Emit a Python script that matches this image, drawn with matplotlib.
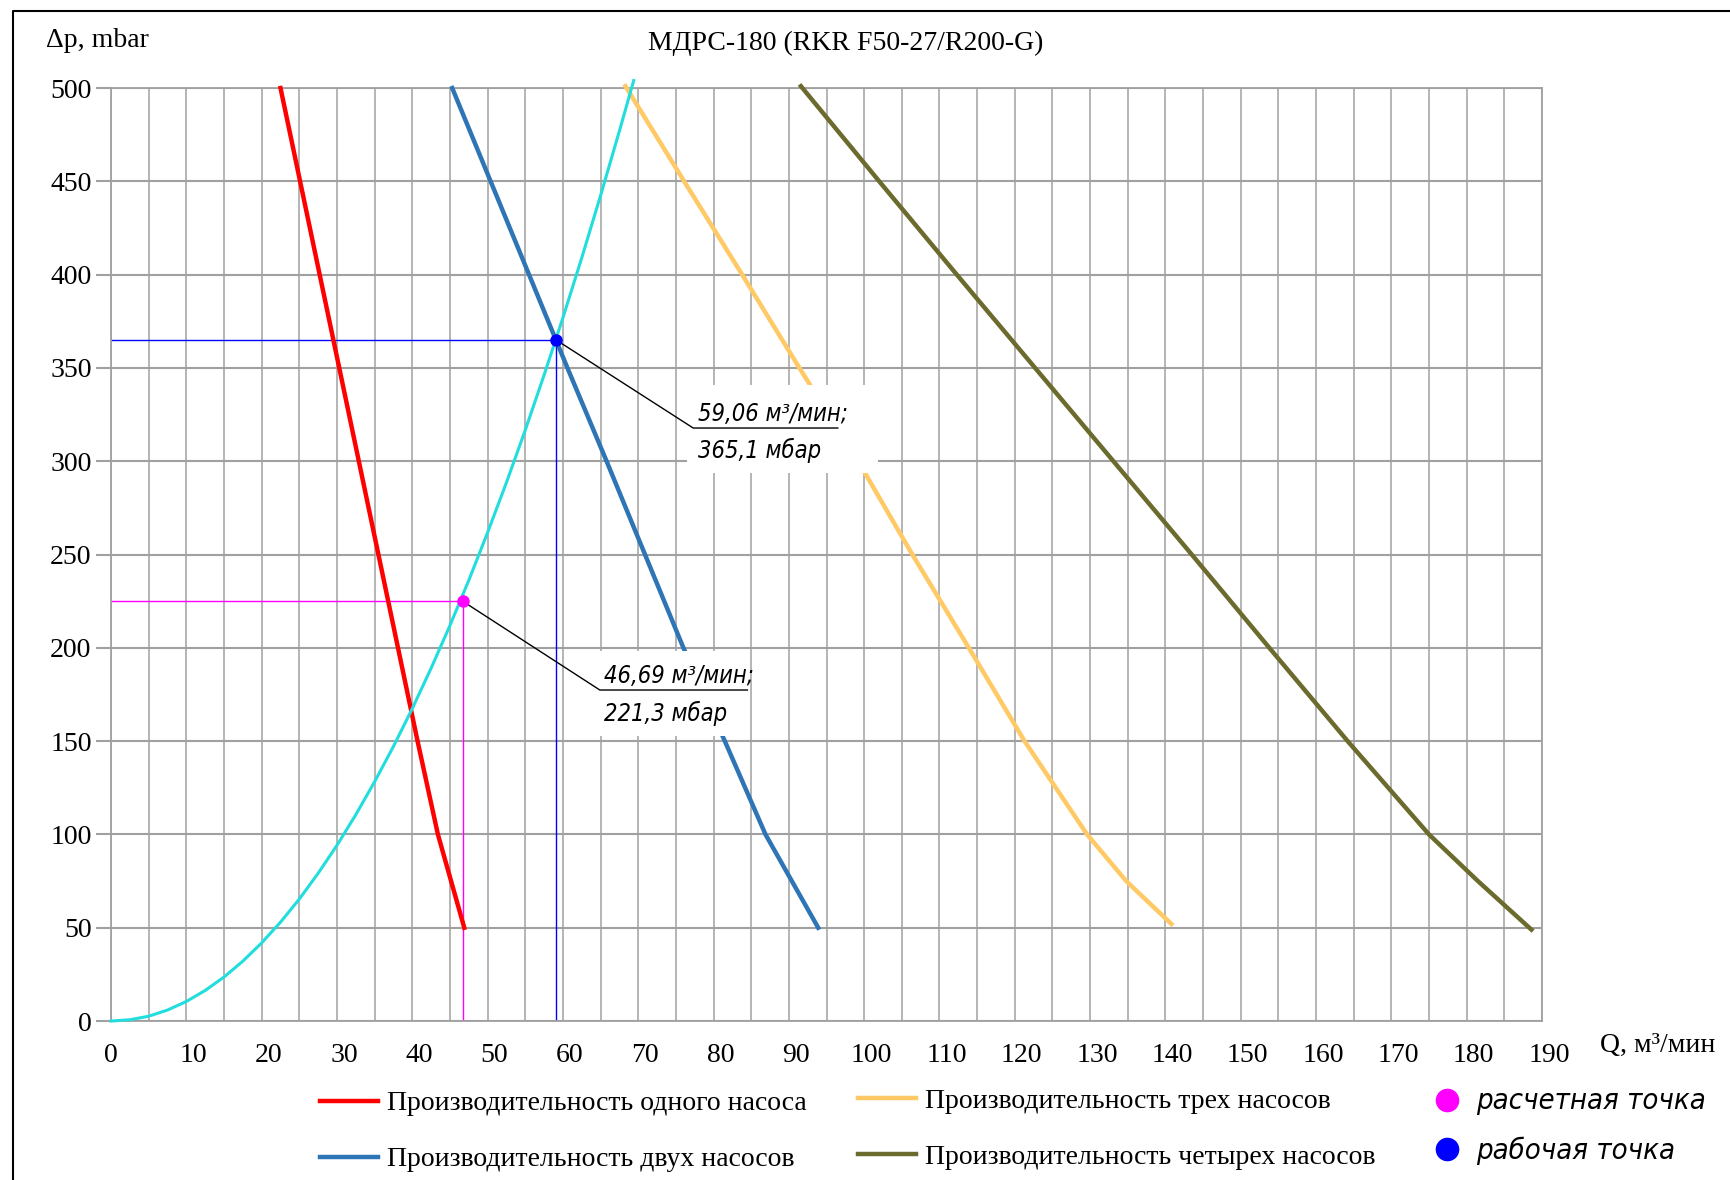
import matplotlib
matplotlib.use("Agg")
import matplotlib.pyplot as plt
from matplotlib.lines import Line2D
from matplotlib.patches import Rectangle
import matplotlib.transforms as mtransforms

plt.rcParams['font.family'] = ['Liberation Serif', 'DejaVu Serif']

# pump curves: Q (m3/min) at given dp (mbar)
dp_levels = [500, 450, 400, 350, 300, 250, 200, 150, 100, 50]
one_q = [22.5, 25.1, 27.7, 30.3, 32.9, 35.5, 38.1, 40.7, 43.4, 46.9]
two_q = [45.3, 50.4, 55.5, 60.6, 65.8, 70.9, 76.0, 81.5, 86.9, 93.9]
three_dp = [501, 450, 400, 350, 300, 250, 200, 150, 100, 75, 52]
three_q = [68.3, 76.1, 83.8, 91.4, 99.2, 106.4, 113.9, 121.3, 129.6, 134.8, 140.8]
four_dp = [501, 450, 400, 350, 300, 250, 200, 150, 100, 75, 49]
four_q = [91.6, 102.0, 112.3, 122.7, 133.1, 143.5, 153.8, 164.2, 175.0, 181.5, 188.6]

# network characteristic
net_q = [0, 2.5, 5, 7.5, 10, 12.5, 15, 17.5, 20, 22.5, 25, 27.5, 30, 32.5, 35, 37.5,
         40, 42.5, 45, 47.5, 50, 52.5, 55, 57.5, 60, 62.5, 65, 67.5, 69.4]
net_dp = [0, 0.7, 2.6, 5.9, 10.5, 16.4, 23.6, 32.1, 41.9, 53.0, 65.4, 79.2, 94.2, 110.6,
          128.3, 147.2, 167.5, 189.1, 212.0, 236.2, 261.8, 288.6, 316.7, 346.2, 376.9,
          409.0, 442.4, 477.0, 504.0]

# points
design_pt = (46.69, 225.0)
design_txt = ["46,69 м³/мин;", "221,3 мбар"]
work_pt = (59.06, 365.1)
work_txt = ["59,06 м³/мин;", "365,1 мбар"]

labels = ["Производительность одного насоса", "Производительность двух насосов",
          "Производительность трех насосов", "Производительность четырех насосов",
          "расчетная точка", "рабочая точка"]

grid_c = '#A0A0A0'
gost = dict(family=['DejaVu Sans'], style='italic', stretch='condensed')

fig = plt.figure(figsize=(17.3, 11.8), dpi=100)
ax = fig.add_axes([0.0642, 0.1347, 0.8271, 0.7907])

ax.set_xlim(0, 190)
ax.set_ylim(0, 500)
ax.set_xticks(range(0, 191, 10))
ax.set_xticks(range(5, 190, 10), minor=True)
ax.set_yticks(range(0, 501, 50))
ax.grid(which='both', axis='x', color=grid_c, lw=1.1, zorder=0)
ax.grid(which='major', axis='y', color=grid_c, lw=1.5, zorder=0)
ax.set_axisbelow(True)
for s in ax.spines.values():
    s.set_color(grid_c)
    s.set_linewidth(1.3)
ax.tick_params(axis='x', which='both', length=0, labelsize=20, pad=16)
ax.tick_params(axis='y', length=11, color=grid_c, width=1.5, labelsize=20, pad=3)
off = mtransforms.ScaledTranslation(7 / 100, 0, fig.dpi_scale_trans)
for lbl in ax.get_xticklabels()[1:]:
    lbl.set_transform(lbl.get_transform() + off)

# guide lines to points
ax.plot([0, design_pt[0]], [design_pt[1], design_pt[1]], color='#FF00FF', lw=1.0, zorder=2)
ax.plot([design_pt[0], design_pt[0]], [0, design_pt[1]], color='#FF00FF', lw=1.0, zorder=2)
ax.plot([0, work_pt[0]], [work_pt[1], work_pt[1]], color='#0000FF', lw=1.0, zorder=2)
ax.plot([work_pt[0], work_pt[0]], [0, work_pt[1]], color='#0000FF', lw=1.0, zorder=2)

h1, = ax.plot(one_q, dp_levels, color='#FF0000', lw=3.2, zorder=3, clip_on=False)
h2, = ax.plot(two_q, dp_levels, color='#2E75B6', lw=3.2, zorder=3, clip_on=False)
h3, = ax.plot(three_q, three_dp, color='#FFC966', lw=3.2, zorder=3, clip_on=False)
h4, = ax.plot(four_q, four_dp, color='#6B6B2E', lw=3.2, zorder=3, clip_on=False)
ax.plot(net_q, net_dp, color='#22DDDD', lw=2.2, zorder=3, clip_on=False)

h5, = ax.plot(*design_pt, 'o', color='#FF00FF', ms=8, zorder=6)
h6, = ax.plot(*work_pt, 'o', color='#0000FF', ms=8, zorder=6)


def callout(pt, box, line_y, x0, x1, txt, y1, y2):
    ax.add_patch(Rectangle((box[0], box[1]), box[2] - box[0], box[3] - box[1],
                           facecolor='white', edgecolor='none', zorder=4))
    ax.plot([pt[0], x0, x1], [pt[1], line_y, line_y], color='black', lw=1.0, zorder=5)
    ax.text(x0 + 0.6, y1, txt[0], fontsize=17, zorder=5, va='baseline', **gost)
    ax.text(x0 + 0.6, y2, txt[1], fontsize=17, zorder=5, va='baseline', **gost)


callout(work_pt, (76.5, 293.5, 101.8, 341), 317.8, 77.3, 96.5, work_txt, 321.5, 301.5)
callout(design_pt, (64.5, 152.5, 84.9, 198.5), 177.4, 64.9, 84.5, design_txt, 181, 161)

fig.text(0.0266, 0.966, "Δp, mbar", fontsize=20, va='center')
fig.text(0.489, 0.963, "МДРС-180 (RKR F50-27/R200-G)", fontsize=20, ha='center', va='center')
fig.text(0.925, 0.114, "Q, м³/мин", fontsize=20, va='center')

leg_kw = dict(frameon=False, fontsize=20, borderpad=0, borderaxespad=0,
              handlelength=2.1, handletextpad=0.3, labelspacing=1.1, loc='upper left')
fig.legend([h1, h2], labels[0:2], bbox_to_anchor=(0.185, 0.0755), **leg_kw)
fig.legend([h3, h4], labels[2:4], bbox_to_anchor=(0.496, 0.0775), **leg_kw)
leg3 = fig.legend([Line2D([], [], ls='none', marker='o', ms=16, color='#FF00FF'),
                   Line2D([], [], ls='none', marker='o', ms=16, color='#0000FF')],
                  labels[4:6], bbox_to_anchor=(0.8285, 0.0785),
                  **{**leg_kw, 'handlelength': 1.0, 'handletextpad': 0.55, 'labelspacing': 0.75})
for t in leg3.get_texts():
    t.set_fontfamily(['DejaVu Sans'])
    t.set_fontstyle('italic')
    t.set_fontstretch('condensed')
    t.set_fontsize(21)

# outer frame
fig.add_artist(Line2D([0.0078, 0.0078, 1.0], [0.0, 0.9905, 0.9905],
                      transform=fig.transFigure, color='black', lw=1.5))

fig.savefig("out.png", dpi=100)
